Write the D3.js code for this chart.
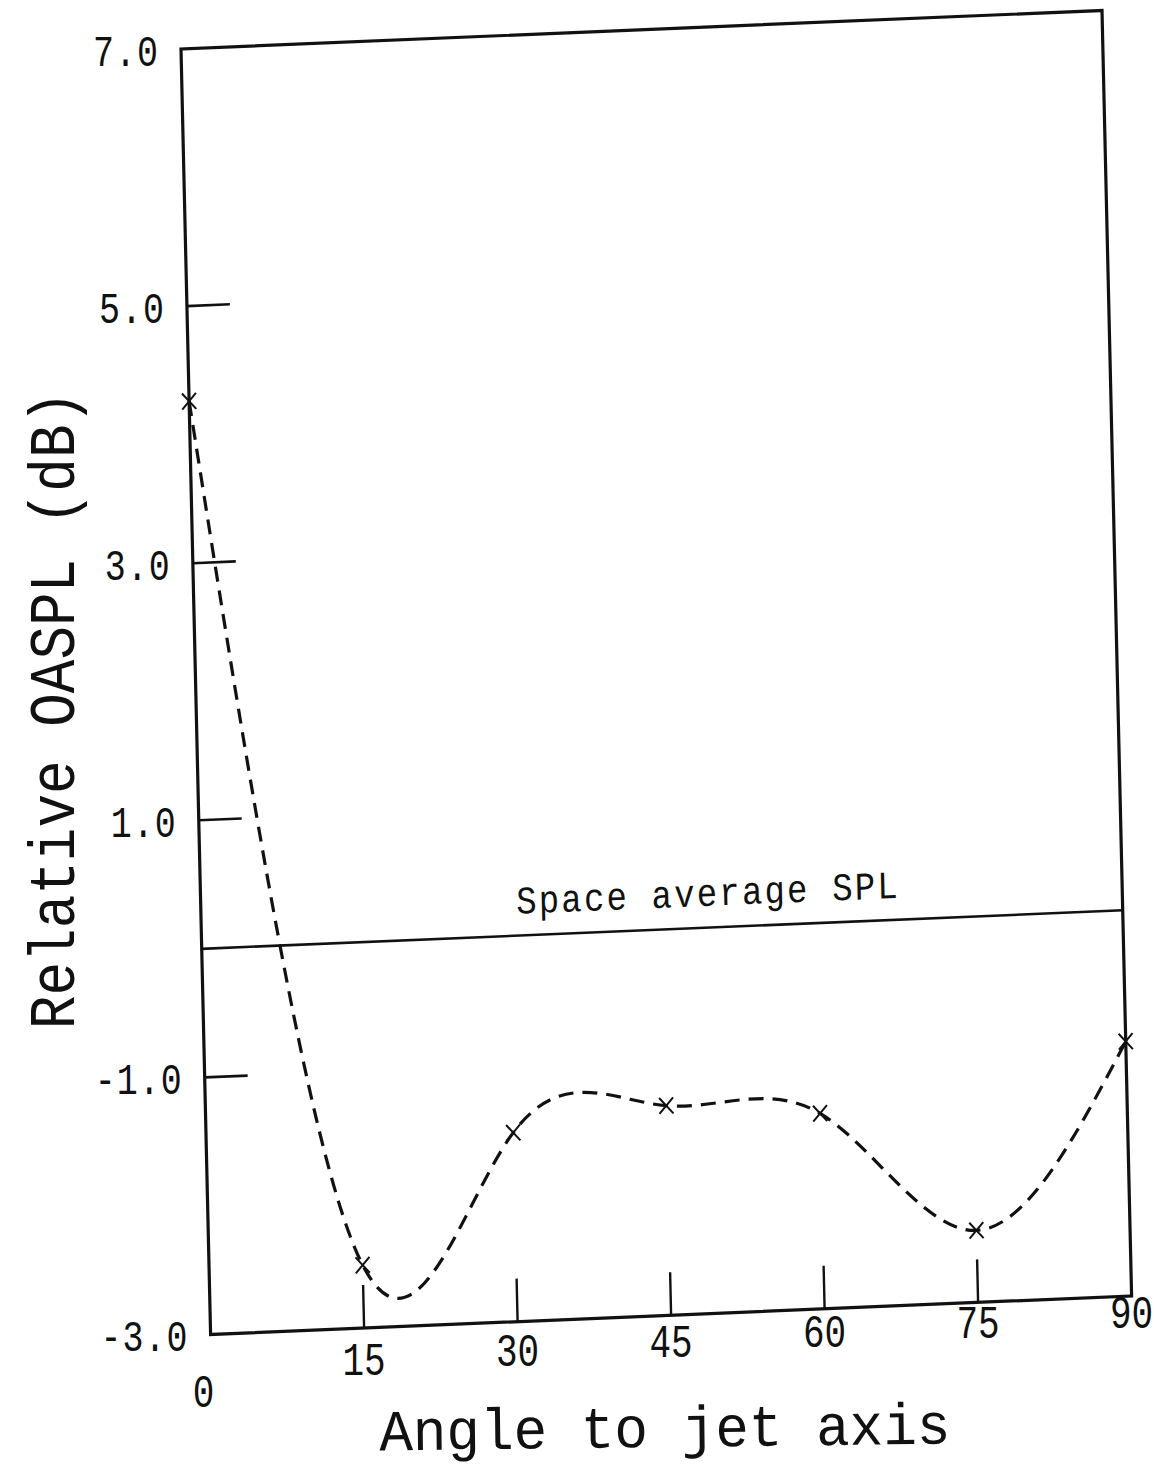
<!DOCTYPE html>
<html>
<head>
<meta charset="utf-8">
<script src="https://cdn.jsdelivr.net/npm/d3@7"></script>
<style>
  html, body { margin: 0; padding: 0; background: #fff; }
  svg { display: block; }
  text { font-family: "Liberation Mono", "DejaVu Sans Mono", monospace; fill: #111; }
</style>
</head>
<body>
<svg id="chart" width="1154" height="1472"></svg>
<script>
// Measured angles (degrees to the jet axis) and relative OASPL (dB)
const angles = [0, 15, 30, 45, 60, 75, 90];
const oaspl = [4.26, -2.51, -1.53, -1.37, -1.48, -2.44, -1.02];

// Space-average SPL reference level (dB)
const spaceAverage = 0;
const spaceAverageLabel = "Space average SPL";

// Axis ticks and their labels
const xTicks = [0, 15, 30, 45, 60, 75, 90];
const xTickLabels = ["0", "15", "30", "45", "60", "75", "90"];
const yTicks = [-3, -1, 1, 3, 5, 7];
const yTickLabels = ["-3.0", "-1.0", "1.0", "3.0", "5.0", "7.0"];

const xTitle = "Angle to jet axis";
const yTitle = "Relative OASPL (dB)";

// ---- layout -------------------------------------------------------------
const svg = d3.select("#chart");
const W = 921.8, H = 1285.8;           // plot frame size in its own frame
// The plotted sheet sits slightly skewed on the page: the frame is mapped
// through an affine matrix (unit basis vectors along each axis).
const M = { a: 0.99913, b: -0.04177, c: 0.02302, d: 0.99974, e: 181, f: 49 };
const project = (u, v) => [M.a * u + M.c * v + M.e, M.b * u + M.d * v + M.f];

const x = d3.scaleLinear().domain([0, 90]).range([0, W]);
const y = d3.scaleLinear().domain([-3, 7]).range([H, 0]);

const plot = svg.append("g")
  .attr("transform", `matrix(${M.a},${M.b},${M.c},${M.d},${M.e},${M.f})`);

// frame
plot.append("rect")
  .attr("x", 0).attr("y", 0).attr("width", W).attr("height", H)
  .attr("fill", "none").attr("stroke", "#111").attr("stroke-width", 3.2);

const tickLen = 43;

// inner y ticks (skip the corners)
plot.selectAll(".ytick")
  .data(yTicks.filter(t => t > -3 && t < 7))
  .join("line")
  .attr("x1", 0).attr("x2", tickLen)
  .attr("y1", d => y(d)).attr("y2", d => y(d))
  .attr("stroke", "#111").attr("stroke-width", 2.6);

// inner x ticks
plot.selectAll(".xtick")
  .data(xTicks.filter(t => t > 0 && t < 90))
  .join("line")
  .attr("x1", d => x(d)).attr("x2", d => x(d))
  .attr("y1", H).attr("y2", H - tickLen)
  .attr("stroke", "#111").attr("stroke-width", 2.4);

// space-average reference line and its label
plot.append("line")
  .attr("x1", 0).attr("x2", W)
  .attr("y1", y(spaceAverage)).attr("y2", y(spaceAverage))
  .attr("stroke", "#111").attr("stroke-width", 2.6);

plot.append("text")
  .attr("transform", `translate(${x(30.8)},${y(spaceAverage + 0.17)}) scale(1,1.15)`)
  .attr("font-size", 34)
  .attr("letter-spacing", 2.2)
  .text(spaceAverageLabel);

// dashed smooth curve through the measured points
const pts = angles.map((a, i) => [a, oaspl[i]]);
const line = d3.line()
  .x(d => x(d[0])).y(d => y(d[1]))
  .curve(d3.curveNatural);

plot.append("path")
  .attr("d", line(pts))
  .attr("fill", "none")
  .attr("stroke", "#111")
  .attr("stroke-width", 3.2)
  .attr("stroke-dasharray", "15,9");

// "x" markers at the measured points
plot.selectAll(".pt")
  .data(pts)
  .join("path")
  .attr("transform", d => `translate(${x(d[0])},${y(d[1])})`)
  .attr("d", "M-7,-8L7,8M-7,8L7,-8")
  .attr("fill", "none")
  .attr("stroke", "#111")
  .attr("stroke-width", 2);

// ---- tick labels (kept upright on the page) ------------------------------
yTicks.forEach((t, i) => {
  const [px, py] = project(0, y(t));
  svg.append("text")
    .attr("transform", `translate(${px - 22},${py + 5}) scale(1,1.25)`)
    .attr("text-anchor", "end")
    .attr("dominant-baseline", "middle")
    .attr("font-size", 35)
    .attr("letter-spacing", 1)
    .text(yTickLabels[i]);
});

xTicks.forEach((t, i) => {
  const [px, py] = project(x(t), H);
  const first = i === 0;
  const dx = first ? -7 : 0;
  const dy = first ? 60 : 38 - 0.2 * t;
  svg.append("text")
    .attr("transform", `translate(${px + dx},${py + dy}) scale(1,1.3)`)
    .attr("text-anchor", "middle")
    .attr("dominant-baseline", "middle")
    .attr("font-size", 36)
    .text(xTickLabels[i]);
});

// ---- axis titles ----------------------------------------------------------
svg.append("text")
  .attr("transform", "translate(665,1447) rotate(-0.7) scale(1,1.04)")
  .attr("text-anchor", "middle")
  .attr("font-size", 56)
  .text(xTitle);

svg.append("text")
  .attr("transform", "translate(74,710) rotate(-90) scale(1,1.15)")
  .attr("text-anchor", "middle")
  .attr("font-size", 56)
  .text(yTitle);
</script>
</body>
</html>
